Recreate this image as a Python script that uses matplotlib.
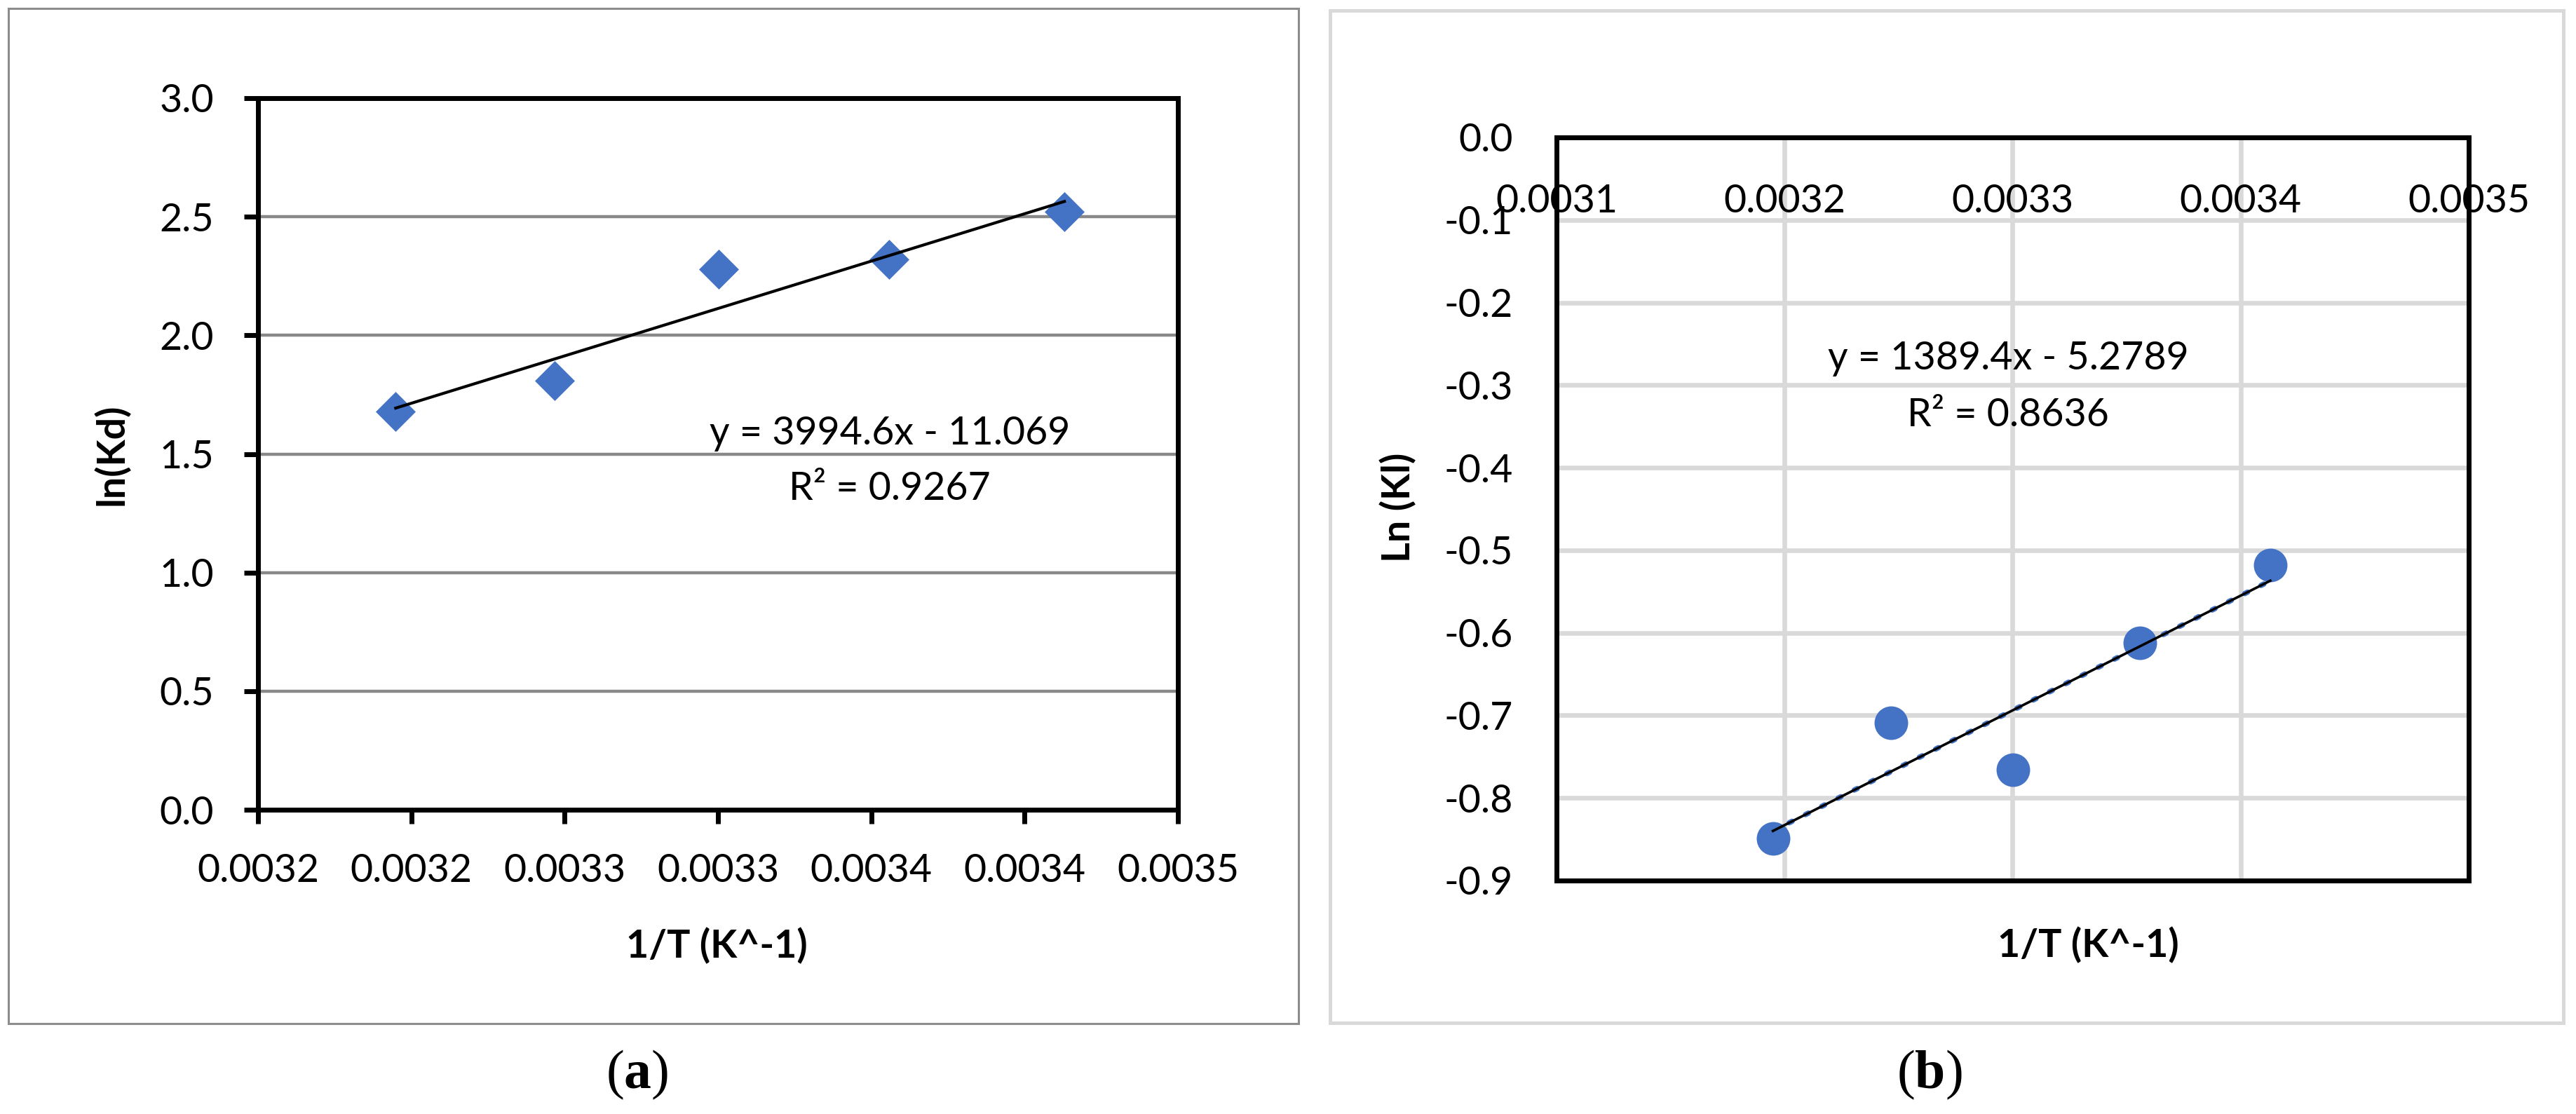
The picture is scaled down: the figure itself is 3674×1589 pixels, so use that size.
import numpy as np
import matplotlib
matplotlib.use("Agg")
import matplotlib.pyplot as plt
from matplotlib.patches import Rectangle

# =========================
# DATA
# =========================
inv_T = [0.0031949, 0.0032468, 0.0033003, 0.0033557, 0.0034130]

ln_kd = [1.68, 1.81, 2.28, 2.32, 2.52]
ln_kl = [-0.849, -0.709, -0.766, -0.612, -0.518]

# trendline coefficients as printed on the chart
fit_a = (3994.6, -11.069)
fit_b = (1389.4, -5.2789)
eq_a = ["y = 3994.6x - 11.069", "R\u00b2 = 0.9267"]
eq_b = ["y = 1389.4x - 5.2789", "R\u00b2 = 0.8636"]

xticks_a = [0.00315, 0.00320, 0.00325, 0.00330, 0.00335, 0.00340, 0.00345]
xticklabels_a = ["0.0032", "0.0032", "0.0033", "0.0033", "0.0034", "0.0034", "0.0035"]
yticks_a = [0.0, 0.5, 1.0, 1.5, 2.0, 2.5, 3.0]

xticks_b = [0.0031, 0.0032, 0.0033, 0.0034, 0.0035]
xticklabels_b = ["0.0031", "0.0032", "0.0033", "0.0034", "0.0035"]
yticks_b = [-0.9, -0.8, -0.7, -0.6, -0.5, -0.4, -0.3, -0.2, -0.1, 0.0]
yticklabels_b = ["-0.9", "-0.8", "-0.7", "-0.6", "-0.5", "-0.4", "-0.3", "-0.2", "-0.1", "0.0"]

# =========================
# STYLE
# =========================
W, H, DPI = 3674, 1589, 100
BLUE = "#4472C4"
FONT = ["Lato", "DejaVu Sans"]
FS = 40

plt.rcParams["font.family"] = FONT
plt.rcParams["axes.unicode_minus"] = False
plt.rcParams["mathtext.fontset"] = "custom"
plt.rcParams["mathtext.rm"] = "Liberation Serif"
plt.rcParams["mathtext.bf"] = "Liberation Serif:bold"


def fx(px):
    return px / W


def fy(py):
    return 1 - py / H


fig = plt.figure(figsize=(W / DPI, H / DPI), dpi=DPI)

# panel frames
fig.add_artist(Rectangle((fx(12), fy(1460)), fx(1852) - fx(12), fy(12) - fy(1460),
                         transform=fig.transFigure, fill=False, edgecolor="#8c8c8c", lw=2.2))
fig.add_artist(Rectangle((fx(1897), fy(1459)), fx(3656) - fx(1897), fy(15) - fy(1459),
                         transform=fig.transFigure, fill=False, edgecolor="#d9d9d9", lw=3.6))

# =========================
# PANEL (a)
# =========================
ax1 = fig.add_axes([fx(368), fy(1155), fx(1680) - fx(368), fy(140) - fy(1155)])
ax1.set_xlim(0.00315, 0.00345)
ax1.set_ylim(0, 3.0)
ax1.set_axisbelow(True)
ax1.grid(axis="y", color="#898989", lw=3.2)
for s in ax1.spines.values():
    s.set_linewidth(5)
    s.set_color("black")

ax1.scatter(inv_T, ln_kd, marker="D", s=29 ** 2, color=BLUE, zorder=3, linewidths=0)
xf = np.array([min(inv_T), max(inv_T)])
ax1.plot(xf, fit_a[0] * xf + fit_a[1], color="black", lw=3, zorder=4)

ax1.set_xticks(xticks_a)
ax1.set_xticklabels(xticklabels_a)
ax1.set_yticks(yticks_a)
ax1.yaxis.set_major_formatter(matplotlib.ticker.FormatStrFormatter("%.1f"))
ax1.tick_params(axis="both", direction="out", length=14.4, width=5, labelsize=FS)
ax1.tick_params(axis="x", pad=30)
ax1.tick_params(axis="y", pad=31)

ax1.text(0.687, 0.5286, eq_a[0], transform=ax1.transAxes, ha="center", va="center", fontsize=FS)
ax1.text(0.687, 0.4507, eq_a[1], transform=ax1.transAxes, ha="center", va="center", fontsize=FS)

ax1.set_xlabel("1/T (K^-1)", fontsize=FS, fontweight="bold")
ax1.set_ylabel("ln(Kd)", fontsize=FS, fontweight="bold")
ax1.xaxis.label.set_va("center")
ax1.yaxis.label.set_va("center")
ax1.xaxis.set_label_coords(0.4985, -0.1913)
ax1.yaxis.set_label_coords(-0.160, 0.499)

# =========================
# PANEL (b)
# =========================
ax2 = fig.add_axes([fx(2220), fy(1256), fx(3521) - fx(2220), fy(196) - fy(1256)])
ax2.set_xlim(0.0031, 0.0035)
ax2.set_ylim(-0.9, 0.0)
ax2.set_axisbelow(True)
ax2.grid(True, color="#d9d9d9", lw=4.7)
for s in ax2.spines.values():
    s.set_linewidth(5)
    s.set_color("black")

ax2.scatter(inv_T, ln_kl, marker="o", s=34.5 ** 2, color=BLUE, zorder=3, linewidths=0)
ax2.plot(xf, fit_b[0] * xf + fit_b[1], color=BLUE, lw=5.5, ls=(0, (0.6, 2.8)),
         dash_capstyle="round", zorder=4)
ax2.plot(xf, fit_b[0] * xf + fit_b[1], color="black", lw=2.6, zorder=5)

ax2.set_xticks(xticks_b)
ax2.set_xticklabels(xticklabels_b)
ax2.set_yticks(yticks_b)
ax2.set_yticklabels(yticklabels_b)
ax2.xaxis.set_ticks_position("top")
ax2.tick_params(axis="x", top=True, bottom=False, labeltop=True, labelbottom=False,
                length=0, pad=-84, labelsize=FS)
ax2.tick_params(axis="y", length=0, pad=45, labelsize=FS)

ax2.text(0.495, 0.702, eq_b[0], transform=ax2.transAxes, ha="center", va="center", fontsize=FS)
ax2.text(0.495, 0.6255, eq_b[1], transform=ax2.transAxes, ha="center", va="center", fontsize=FS)

ax2.set_xlabel("1/T (K^-1)", fontsize=FS, fontweight="bold")
ax2.set_ylabel("Ln (Kl)", fontsize=FS, fontweight="bold")
ax2.xaxis.set_label_position("bottom")
ax2.xaxis.label.set_va("center")
ax2.yaxis.label.set_va("center")
ax2.xaxis.set_label_coords(0.5826, -0.0868)
ax2.yaxis.set_label_coords(-0.1737, 0.5019)

# =========================
# CAPTIONS
# =========================
fig.text(fx(909), fy(1533), r"($\mathbf{a}$)", ha="center", va="center",
         fontsize=56, family="Liberation Serif")
fig.text(fx(2752), fy(1533), r"($\mathbf{b}$)", ha="center", va="center",
         fontsize=56, family="Liberation Serif")

fig.savefig("out.png", dpi=DPI, facecolor="white")
